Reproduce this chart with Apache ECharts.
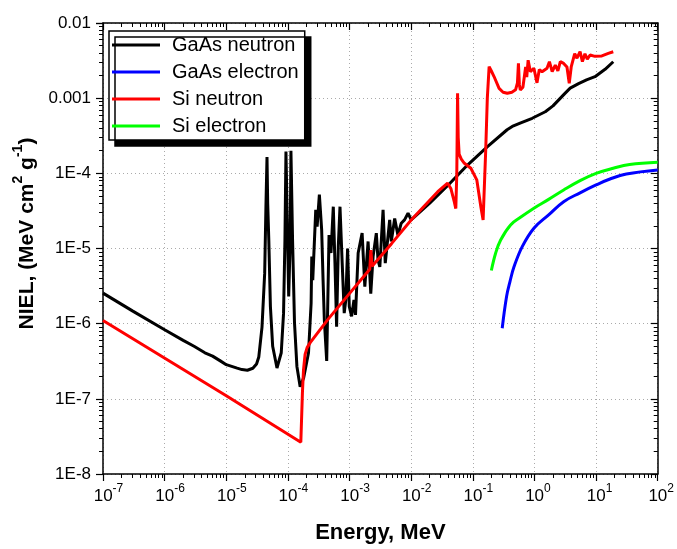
<!DOCTYPE html>
<html>
<head>
<meta charset="utf-8">
<script src="https://cdn.jsdelivr.net/npm/echarts@6/dist/echarts.min.js"></script>
<style>
html,body{margin:0;padding:0;background:#fff;}
#chart{width:677px;height:549px;}
</style>
</head>
<body>
<div id="chart"></div>
<script>
// ---- data (energy in MeV, NIEL in MeV cm^2 g^-1) ----
const seriesNames = ['GaAs neutron', 'GaAs electron', 'Si neutron', 'Si electron'];
const seriesColors = ['#000000', '#0000ff', '#ff0000', '#00ff00'];

const gaasNeutron = [
  [1e-7,2.55e-6],[3e-7,1.48e-6],[1e-6,8.3e-7],[2e-6,6.0e-7],[3e-6,5.0e-7],[4.5e-6,4.1e-7],
  [6e-6,3.7e-7],[8e-6,3.2e-7],[1e-5,2.85e-7],[1.5e-5,2.56e-7],[1.8e-5,2.45e-7],[2.2e-5,2.4e-7],
  [2.7e-5,2.55e-7],[3.1e-5,2.9e-7],[3.37e-5,3.6e-7],[3.8e-5,9e-7],[4.2e-5,4.7e-6],
  [4.4e-5,3.6e-5],[4.58e-5,1.65e-4],[4.7e-5,4e-5],[4.9e-5,1.3e-5],[5.2e-5,1.7e-6],[5.66e-5,5e-7],
  [6.65e-5,2.57e-7],[7.8e-5,4.1e-7],[8.5e-5,1.38e-6],[8.95e-5,1.3e-5],[9.3e-5,1.95e-4],[9.9e-5,1.3e-5],
  [1.03e-4,2.3e-6],[1.09e-4,1.3e-5],[1.12e-4,2.0e-4],[1.19e-4,1.3e-5],[1.28e-4,1.02e-6],[1.4e-4,2.7e-7],
  [1.58e-4,1.45e-7],[1.8e-4,1.9e-7],[2.16e-4,4.1e-7],[2.38e-4,1.87e-6],[2.44e-4,7.8e-6],[2.53e-4,3.8e-6],
  [2.83e-4,3.26e-5],[2.98e-4,1.95e-5],[3.24e-4,5.2e-5],[3.53e-4,1.77e-5],[3.72e-4,3.8e-6],[3.9e-4,1.12e-6],
  [4.26e-4,3.2e-7],[4.65e-4,1.51e-5],[5.0e-4,8.7e-6],[5.45e-4,3.6e-5],[5.8e-4,6.4e-6],[6.17e-4,9.1e-7],
  [6.57e-4,1.06e-5],[7.0e-4,3.6e-5],[7.6e-4,6.4e-6],[8.2e-4,1.38e-6],[8.7e-4,2.07e-6],[9.3e-4,1.0e-5],
  [9.9e-4,1.7e-6],[1.08e-3,1.25e-6],[1.18e-3,2.07e-6],[1.25e-3,1.31e-6],[1.38e-3,8.7e-6],[1.6e-3,1.6e-5],
  [1.77e-3,3.1e-6],[2.0e-3,1.24e-5],[2.21e-3,2.5e-6],[2.41e-3,7.8e-6],[2.72e-3,1.6e-5],[2.9e-3,7.0e-6],
  [3.1e-3,5.7e-6],[3.5e-3,3.26e-5],[3.8e-3,6.4e-6],[4.48e-3,2.4e-5],[4.76e-3,1.24e-5],[5.4e-3,2.5e-5],
  [6.1e-3,1.5e-5],[6.9e-3,2.17e-5],[7.8e-3,2.4e-5],[8.9e-3,2.95e-5],[1e-2,2.4e-5],[2e-2,4.0e-5],
  [4e-2,7.0e-5],[8.2e-2,1.29e-4],[0.173,2.26e-4],[0.36,3.8e-4],[0.436,4.2e-4],[0.6,4.7e-4],
  [0.92,5.4e-4],[1.5,6.6e-4],[2.0,7.9e-4],[2.48,9.5e-4],[3.1,1.15e-3],[3.8,1.36e-3],[5.2,1.56e-3],
  [7,1.75e-3],[9.6,1.93e-3],[14,2.42e-3],[19,3.05e-3]
];

const gaasElectron = [
  [0.30,8.7e-7],[0.353,2.3e-6],[0.40,3.6e-6],[0.466,5.7e-6],[0.634,1.06e-5],[0.98,1.86e-5],
  [1.7,2.8e-5],[2.98,4.2e-5],[5.5,5.5e-5],[10,7.0e-5],[16.8,8.4e-5],[31,9.8e-5],[100,1.11e-4]
];

const siNeutron = [
  [1e-7,1.1e-6],[1e-5,1.1e-7],[1.62e-4,2.65e-8],[1.72e-4,1.2e-7],[1.79e-4,2.4e-7],[1.9e-4,3.9e-7],
  [2.05e-4,4.8e-7],[2.3e-4,5.6e-7],[4.5e-4,1.15e-6],[9.5e-4,2.4e-6],[2.13e-3,5.3e-6],[2.22e-3,9.5e-6],
  [2.32e-3,5.8e-6],[4.8e-3,1.16e-5],[1e-2,2.4e-5],[2.7e-2,5.7e-5],[3.9e-2,7.4e-5],[4.4e-2,6.3e-5],
  [5.0e-2,4.2e-5],[5.3e-2,3.4e-5],[5.5e-2,1.0e-4],[5.66e-2,1.16e-3],[5.8e-2,3e-4],[6.0e-2,1.8e-4],
  [6.5e-2,1.55e-4],[7.3e-2,1.36e-4],[9.3e-2,1.17e-4],[0.116,8.2e-5],[0.135,3.6e-5],[0.147,2.4e-5],
  [0.162,2.04e-4],[0.172,1.0e-3],[0.184,2.63e-3],[0.2,2.3e-3],[0.221,1.94e-3],[0.267,1.35e-3],
  [0.31,1.2e-3],[0.363,1.16e-3],[0.43,1.2e-3],[0.494,1.29e-3],[0.53,1.6e-3],[0.55,2.9e-3],
  [0.57,1.5e-3],[0.59,1.29e-3],[0.65,1.4e-3],[0.72,2.6e-3],[0.75,1.9e-3],[0.79,3.2e-3],
  [0.86,2.25e-3],[0.98,2.5e-3],[1.1,1.6e-3],[1.2,2.4e-3],[1.33,2.25e-3],[1.6,2.5e-3],
  [1.75,3.06e-3],[1.94,2.25e-3],[2.18,2.76e-3],[2.4,2.3e-3],[2.63,3.06e-3],[2.98,2.9e-3],
  [3.37,2.6e-3],[3.67,1.58e-3],[3.95,2.6e-3],[4.5,3.9e-3],[4.9,3.4e-3],[5.5,4.15e-3],
  [6.0,3.06e-3],[6.6,3.9e-3],[7.2,3.3e-3],[8.0,3.75e-3],[9.6,3.6e-3],[12.4,3.65e-3],
  [15.8,3.95e-3],[19,4.15e-3]
];

const siElectron = [
  [0.20,5.1e-6],[0.235,8.7e-6],[0.283,1.3e-5],[0.41,2.06e-5],[0.594,2.6e-5],[0.98,3.44e-5],
  [1.7,4.5e-5],[2.98,6.0e-5],[5.5,8.0e-5],[10,1.0e-4],[19,1.17e-4],[35,1.31e-4],[100,1.4e-4]
];

const xRange = [1e-7, 100];
const yRange = [1e-8, 1e-2];

// ---- chart ----
const FONT = 'Arial, "Liberation Sans", Helvetica, sans-serif';
const chart = echarts.init(document.getElementById('chart'), null, {renderer: 'canvas'});

function xLabel(v) {
  const e = Math.round(Math.log10(v));
  const pad = e < 0 ? 'pn' : 'pp';
  return '{' + pad + '|}{b|10}{s|' + e + '}';
}
function yLabel(v) {
  const e = Math.round(Math.log10(v));
  if (e >= -3) return Math.pow(10, e).toFixed(-e);
  return '1E' + e;
}

const axisLineStyle = {color: '#000', width: 1.5};
const gridLine = {show: true, lineStyle: {color: '#aaaaaa', width: 1, type: [1, 3]}};

const series = [gaasNeutron, gaasElectron, siNeutron, siElectron].map((d, i) => ({
  name: seriesNames[i],
  type: 'line',
  data: d,
  xAxisIndex: 0,
  yAxisIndex: 0,
  showSymbol: false,
  symbol: 'none',
  smooth: (i === 1 || i === 3) ? 0.4 : false,
  color: seriesColors[i],
  lineStyle: {color: seriesColors[i], width: 3},
  clip: true
}));

chart.setOption({
  animation: false,
  backgroundColor: '#fff',
  grid: {left: 103, right: 15, top: 23, bottom: 75, containLabel: false},
  legend: {
    data: seriesNames,
    orient: 'vertical',
    left: 109, top: 31,
    icon: 'rect',
    itemWidth: 48, itemHeight: 3,
    itemGap: 7,
    padding: [4, 6, 4, 3],
    backgroundColor: '#fff',
    borderColor: '#000', borderWidth: 1.5, borderRadius: 0,
    shadowColor: '#000', shadowOffsetX: 6, shadowOffsetY: 6, shadowBlur: 0,
    textStyle: {fontFamily: FONT, fontSize: 20, color: '#000', padding: [0, 0, 0, 7], lineHeight: 20},
    selectedMode: false
  },
  xAxis: [
    {
      type: 'log', logBase: 10, min: xRange[0], max: xRange[1], position: 'bottom',
      axisLine: {show: true, onZero: false, lineStyle: axisLineStyle},
      axisTick: {show: true, inside: false, length: 7, lineStyle: {color: '#000', width: 1.2}},
      minorTick: {show: true, splitNumber: 9, length: 4, lineStyle: {color: '#000', width: 1}},
      splitLine: gridLine,
      axisLabel: {
        formatter: xLabel, margin: 9, color: '#000',
        rich: {
          b: {fontFamily: FONT, fontSize: 17, color: '#000', lineHeight: 22, verticalAlign: 'bottom'},
          s: {fontFamily: FONT, fontSize: 12, color: '#000', lineHeight: 12, verticalAlign: 'top'},
          pn: {width: 11}, pp: {width: 7}
        }
      },
      name: 'Energy, MeV', nameLocation: 'middle', nameGap: 48,
      nameTextStyle: {fontFamily: FONT, fontSize: 22, fontWeight: 'bold', color: '#000'}
    },
    {
      type: 'log', logBase: 10, min: xRange[0], max: xRange[1], position: 'top',
      axisLine: {show: true, onZero: false, lineStyle: axisLineStyle},
      axisTick: {show: true, inside: true, length: 7, lineStyle: {color: '#000', width: 1.2}},
      minorTick: {show: true, splitNumber: 9, length: 4, lineStyle: {color: '#000', width: 1}},
      splitLine: {show: false},
      axisLabel: {show: false}
    }
  ],
  yAxis: [
    {
      type: 'log', logBase: 10, min: yRange[0], max: yRange[1], position: 'left',
      axisLine: {show: true, onZero: false, lineStyle: axisLineStyle},
      axisTick: {show: true, inside: false, length: 7, lineStyle: {color: '#000', width: 1.2}},
      minorTick: {show: true, splitNumber: 9, length: 4, lineStyle: {color: '#000', width: 1}},
      splitLine: gridLine,
      axisLabel: {formatter: yLabel, margin: 12, fontFamily: FONT, fontSize: 17, color: '#000'},
      name: '{a|NIEL, (MeV cm}{s|2}{a| g}{s|-1}{a|)}',
      nameLocation: 'middle', nameGap: 63,
      nameTextStyle: {
        padding: [0, 0, 0, 30],
        rich: {
          a: {fontFamily: FONT, fontSize: 21, fontWeight: 'bold', color: '#000', lineHeight: 26, verticalAlign: 'bottom'},
          s: {fontFamily: FONT, fontSize: 14, fontWeight: 'bold', color: '#000', lineHeight: 14, verticalAlign: 'top'}
        }
      }
    },
    {
      type: 'log', logBase: 10, min: yRange[0], max: yRange[1], position: 'right',
      axisLine: {show: true, onZero: false, lineStyle: axisLineStyle},
      axisTick: {show: true, inside: true, length: 7, lineStyle: {color: '#000', width: 1.2}},
      minorTick: {show: true, splitNumber: 9, length: 4, lineStyle: {color: '#000', width: 1}},
      splitLine: {show: false},
      axisLabel: {show: false}
    }
  ],
  series: series
});
</script>
</body>
</html>
